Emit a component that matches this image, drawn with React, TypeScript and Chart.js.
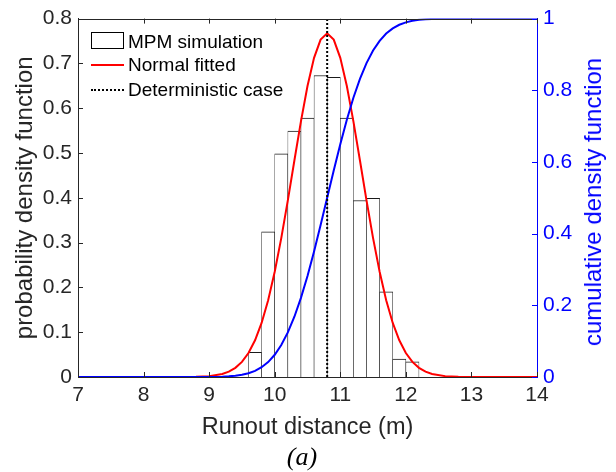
import React, { useEffect, useRef } from 'react';
import { Chart, registerables } from 'chart.js';

Chart.register(...registerables);

// Histogram of MPM simulation (bin centres, bin width 0.2 m) — probability density
const binCenters = [9.7, 9.9, 10.1, 10.3, 10.5, 10.7, 10.9, 11.1, 11.3, 11.5, 11.7, 11.9, 12.1];
const binDensity = [0.055, 0.324, 0.498, 0.549, 0.578, 0.673, 0.669, 0.578, 0.394, 0.399, 0.19, 0.04, 0.034];

// Sampled points of the fitted normal curve (pdf, left axis) and its cumulative curve (right axis)
const curveX = [7.0, 8.0, 8.5, 8.8, 9.0, 9.2, 9.3, 9.4, 9.5, 9.6, 9.7, 9.8, 9.9, 10.0, 10.1, 10.2, 10.3, 10.4, 10.5, 10.6, 10.7, 10.8, 10.9, 11.0, 11.1, 11.2, 11.3, 11.4, 11.5, 11.6, 11.7, 11.8, 11.9, 12.0, 12.1, 12.2, 12.3, 12.4, 12.6, 12.8, 13.1, 14.0];
const pdfFitted = [0, 0, 0.0001, 0.0005, 0.0019, 0.0068, 0.012, 0.0205, 0.0337, 0.0535, 0.0819, 0.1207, 0.1715, 0.2349, 0.31, 0.3943, 0.4832, 0.5707, 0.6496, 0.7125, 0.7532, 0.7672, 0.7532, 0.7125, 0.6496, 0.5707, 0.4832, 0.3943, 0.31, 0.2349, 0.1715, 0.1207, 0.0819, 0.0535, 0.0337, 0.0205, 0.012, 0.0068, 0.0019, 0.0005, 0.0001, 0];
const cdfFitted = [0, 0, 0, 0.0001, 0.0003, 0.001, 0.002, 0.0035, 0.0062, 0.0105, 0.0172, 0.0272, 0.0417, 0.062, 0.0891, 0.1243, 0.1682, 0.2209, 0.282, 0.3503, 0.4238, 0.5, 0.5762, 0.6497, 0.718, 0.7791, 0.8318, 0.8757, 0.9109, 0.938, 0.9583, 0.9728, 0.9828, 0.9895, 0.9938, 0.9965, 0.998, 0.999, 0.9997, 0.9999, 1, 1];

// Deterministic case runout
const deterministicX = [10.8, 10.8];
const deterministicY = [0, 0.8];

// Axis ranges / tick steps
const xRange = [7, 14];
const xStep = 1;
const yRange = [0, 0.8];
const yStep = 0.1;
const y2Range = [0, 1];
const y2Step = 0.2;

const legendLabels = ['MPM simulation', 'Normal fitted', 'Deterministic case'];
const xTitle = 'Runout distance (m)';
const yTitle = 'probability density function';
const y2Title = 'cumulative density function';
const caption = '(a)';

const FONT = "'Liberation Sans', Arial, Helvetica, sans-serif";
const SERIF = "'Liberation Serif', 'Times New Roman', serif";
const DARK = '#262626';
const BLUE = '#0000ff';
const RED = '#ff0000';

const fmt = (v: any) => String(Number(Number(v).toFixed(2)));

const strokeSegs = (ctx: any, color: string, width: number, segs: number[][]) => {
  ctx.save();
  ctx.setLineDash([]);
  ctx.lineWidth = width;
  ctx.strokeStyle = color;
  ctx.beginPath();
  segs.forEach((s) => {
    ctx.moveTo(s[0], s[1]);
    ctx.lineTo(s[2], s[3]);
  });
  ctx.stroke();
  ctx.restore();
};

// Box top edge + inward tick marks, placed with the chart's own scales
const frameTicks = {
  id: 'frameTicks',
  afterDraw(chart: any) {
    const ctx = chart.ctx;
    const a = chart.chartArea;
    if (!ctx || !a) return;
    const L = 5;
    const top = Math.round(a.top) + 0.5;
    try {
      strokeSegs(ctx, DARK, 1.2, [[a.left, top, a.right, top]]);
    } catch (e) {}
    try {
      const sx = chart.scales.x;
      const segs: number[][] = [];
      (sx.ticks || []).forEach((t: any) => {
        const p = Math.round(sx.getPixelForValue(t.value)) + 0.5;
        segs.push([p, a.bottom, p, a.bottom - L]);
        segs.push([p, a.top, p, a.top + L]);
      });
      strokeSegs(ctx, DARK, 1, segs);
    } catch (e) {}
    try {
      const sy = chart.scales.y;
      const segs: number[][] = [];
      (sy.ticks || []).forEach((t: any) => {
        const p = Math.round(sy.getPixelForValue(t.value)) + 0.5;
        segs.push([a.left, p, a.left + L, p]);
      });
      strokeSegs(ctx, DARK, 1, segs);
    } catch (e) {}
    try {
      const sy2 = chart.scales.y2;
      const segs: number[][] = [];
      (sy2.ticks || []).forEach((t: any) => {
        const p = Math.round(sy2.getPixelForValue(t.value)) + 0.5;
        segs.push([a.right, p, a.right - L, p]);
      });
      strokeSegs(ctx, BLUE, 1, segs);
    } catch (e) {}
  },
};

export default function App() {
  const canvasRef = useRef<HTMLCanvasElement | null>(null);

  useEffect(() => {
    if (!canvasRef.current) return;
    const tickFont = { family: FONT, size: 21 };
    const chart = new Chart(canvasRef.current, {
      type: 'line',
      data: {
        datasets: [
          {
            type: 'line',
            label: legendLabels[2],
            data: deterministicX.map((x, i) => ({ x, y: deterministicY[i] })),
            borderColor: '#000000',
            borderWidth: 2,
            borderDash: [2, 2],
            pointRadius: 0,
            yAxisID: 'y',
            order: 0,
          },
          {
            type: 'line',
            label: 'CDF',
            data: curveX.map((x, i) => ({ x, y: cdfFitted[i] })),
            borderColor: BLUE,
            borderWidth: 2,
            pointRadius: 0,
            tension: 0,
            yAxisID: 'y2',
            order: 1,
          },
          {
            type: 'line',
            label: legendLabels[1],
            data: curveX.map((x, i) => ({ x, y: pdfFitted[i] })),
            borderColor: RED,
            borderWidth: 2,
            pointRadius: 0,
            tension: 0,
            yAxisID: 'y',
            order: 2,
          },
          {
            type: 'bar',
            label: legendLabels[0],
            data: binCenters.map((x, i) => ({ x, y: binDensity[i] })),
            backgroundColor: '#ffffff',
            borderColor: '#1a1a1a',
            borderWidth: { top: 1, left: 0.6, right: 0.6, bottom: 0 },
            borderSkipped: false,
            barPercentage: 1,
            categoryPercentage: 1,
            yAxisID: 'y',
            order: 3,
          } as any,
        ],
      },
      options: {
        responsive: true,
        maintainAspectRatio: false,
        animation: false,
        layout: { padding: { top: 18, left: 0, right: 0, bottom: 0 } },
        plugins: { legend: { display: false }, tooltip: { enabled: false } },
        scales: {
          x: {
            type: 'linear',
            min: xRange[0],
            max: xRange[1],
            offset: false,
            grid: { display: false, offset: false, drawTicks: false },
            border: { display: true, color: DARK, width: 1 },
            ticks: { stepSize: xStep, font: tickFont, color: DARK, padding: 6, maxRotation: 0, autoSkip: false },
            title: {
              display: true,
              text: xTitle,
              font: { family: FONT, size: 23.5 },
              color: DARK,
              padding: { top: 0, bottom: 30 },
            },
            afterFit: (s: any) => {
              s.height = 95;
            },
          },
          y: {
            type: 'linear',
            position: 'left',
            min: yRange[0],
            max: yRange[1],
            grid: { display: false, drawTicks: false },
            border: { display: true, color: DARK, width: 1 },
            ticks: { stepSize: yStep, font: tickFont, color: DARK, padding: 6, callback: fmt },
            title: {
              display: true,
              text: yTitle,
              font: { family: FONT, size: 24 },
              color: DARK,
              padding: { top: 11, bottom: 0 },
            },
            afterFit: (s: any) => {
              s.width = 78;
            },
          },
          y2: {
            type: 'linear',
            position: 'right',
            min: y2Range[0],
            max: y2Range[1],
            grid: { display: false, drawTicks: false },
            border: { display: true, color: BLUE, width: 1 },
            ticks: { stepSize: y2Step, font: tickFont, color: BLUE, padding: 6, callback: fmt },
            afterFit: (s: any) => {
              s.width = 79;
            },
          },
        },
      } as any,
      plugins: [frameTicks as any],
    });
    return () => chart.destroy();
  }, []);

  const rowText: React.CSSProperties = {
    position: 'absolute',
    left: 128,
    height: 24,
    lineHeight: '24px',
    fontFamily: FONT,
    fontSize: 19,
    color: '#000',
    whiteSpace: 'nowrap',
  };

  return (
    <div style={{ position: 'absolute', left: 0, top: 0, width: 616, height: 472, background: '#fff' }}>
      <canvas ref={canvasRef} />
      <div style={{ position: 'absolute', left: 91, top: 32, width: 33, height: 17, border: '1px solid #000', boxSizing: 'border-box', background: '#fff' }} />
      <div style={{ ...rowText, top: 42 - 12 }}>{legendLabels[0]}</div>
      <div style={{ position: 'absolute', left: 91, top: 64, width: 33, height: 2, background: RED }} />
      <div style={{ ...rowText, top: 65 - 12 }}>{legendLabels[1]}</div>
      <div style={{ position: 'absolute', left: 91, top: 89, width: 33, height: 0, borderTop: '2px dotted #000' }} />
      <div style={{ ...rowText, top: 90 - 12 }}>{legendLabels[2]}</div>
      <div
        style={{
          position: 'absolute',
          left: 593,
          top: 202,
          transform: 'translate(-50%, -50%) rotate(-90deg)',
          fontFamily: FONT,
          fontSize: 24,
          color: BLUE,
          whiteSpace: 'nowrap',
        }}
      >
        {y2Title}
      </div>
      <div
        style={{
          position: 'absolute',
          left: 302,
          top: 457,
          transform: 'translate(-50%, -50%)',
          fontFamily: SERIF,
          fontStyle: 'italic',
          fontSize: 26,
          color: '#000',
          whiteSpace: 'nowrap',
        }}
      >
        {caption}
      </div>
    </div>
  );
}
